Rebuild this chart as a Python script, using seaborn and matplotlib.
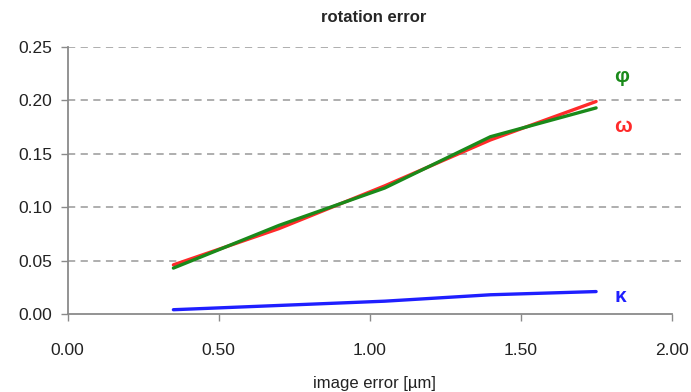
import pandas as pd
import seaborn as sns
import matplotlib.pyplot as plt

# image error [um] and rotation errors per angle
image_error = [0.35, 0.70, 1.05, 1.40, 1.75]
omega = [0.046, 0.080, 0.120, 0.163, 0.199]
phi = [0.043, 0.083, 0.118, 0.166, 0.193]
kappa = [0.004, 0.008, 0.012, 0.018, 0.021]

labels = ["κ", "ω", "φ"]
colors = {"κ": "#1f1fff", "ω": "#ff2a2a", "φ": "#1a8a1a"}

df = pd.DataFrame({
    "x": image_error * 3,
    "y": kappa + omega + phi,
    "angle": ["κ"] * 5 + ["ω"] * 5 + ["φ"] * 5,
})

sns.set_style("white")
plt.rcParams['font.family'] = ['Liberation Sans', 'DejaVu Sans']

fig = plt.figure(figsize=(6.91, 3.92), dpi=100)
ax = fig.add_axes([0.098, 0.199, 0.887, 0.681])

for yv in [0.05, 0.10, 0.15, 0.20, 0.25]:
    ax.axhline(yv, color="#a8a8a8", lw=1.3, ls=(0, (4, 3)), zorder=0)

sns.lineplot(data=df, x="x", y="y", hue="angle", hue_order=labels,
             palette=colors, lw=2.4, legend=False, ax=ax)

ax.set_xlim(0, 2.03)
ax.set_ylim(0, 0.25)
ax.set_xticks([0, 0.5, 1.0, 1.5, 2.0])
ax.set_xticklabels(["0.00", "0.50", "1.00", "1.50", "2.00"])
ax.set_yticks([0, 0.05, 0.10, 0.15, 0.20, 0.25])
ax.set_yticklabels(["0.00", "0.05", "0.10", "0.15", "0.20", "0.25"])
ax.tick_params(labelsize=12.5, colors="#222222", length=5, width=1, direction="out",
               bottom=True, left=True, pad=6)
ax.tick_params(axis="both", color="#8a8a8a")
ax.tick_params(axis="x", pad=16)
for side in ["top", "right"]:
    ax.spines[side].set_visible(False)
for side in ["left", "bottom"]:
    ax.spines[side].set_color("#8a8a8a")
    ax.spines[side].set_linewidth(1.3)
ax.spines["bottom"].set_bounds(0, 2.0)

ax.text(1.81, 0.222, "φ", color=colors["φ"], fontsize=15, fontweight="bold", va="center")
ax.text(1.81, 0.176, "ω", color=colors["ω"], fontsize=15, fontweight="bold", va="center")
ax.text(1.81, 0.016, "κ", color=colors["κ"], fontsize=15, fontweight="bold", va="center")

ax.set_xlabel("image error [µm]", fontsize=12, color="#222222", labelpad=13)
ax.set_ylabel("")
ax.set_title("rotation error", fontsize=12, fontweight="bold", pad=18)

fig.savefig("out.png", dpi=100)
